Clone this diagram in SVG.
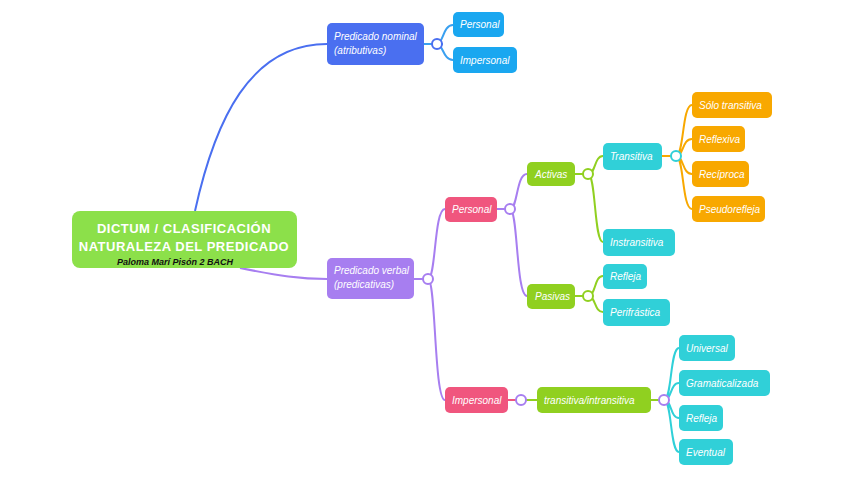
<svg xmlns="http://www.w3.org/2000/svg" width="848" height="477" viewBox="0 0 848 477">
<style>
text{font-family:"Liberation Sans",Arial,sans-serif;font-style:italic;font-size:10px;fill:#fff}
.root{font-style:normal;font-weight:bold;font-size:13px;letter-spacing:0.5px}
.sig{fill:#111;font-size:9px;font-weight:bold}
path{fill:none;stroke-width:2}
.b{stroke:#4a6ff0}.c{stroke:#3aa0f0}.p{stroke:#a77ef0}.k{stroke:#f0567e}.g{stroke:#90d020}.t{stroke:#30d0d8}.o{stroke:#f8a800}
circle{fill:#fff;stroke-width:2}
</style>
<rect width="848" height="477" fill="#fff"/>
<g id="connectors">
<path class="b" d="M195 211 C215 120 250 44 327 44"/>
<path class="p" d="M240 268 C280 276 300 279 327 279"/>
<path class="c" d="M424 44 H443 M437 44 C443 44 443 25 453 25 M437 44 C443 44 443 60 453 60"/>
<path class="p" d="M414 279 H428 M428 279 C436 279 434 209 445 209 M428 279 C436 279 434 400 445 400"/>
<path class="p" d="M497 209 H510 M510 209 C518 209 516 174 527 174 M510 209 C518 209 516 296 527 296"/>
<path class="k" d="M508 400 H521"/>
<path class="g" d="M575 174 H588 M588 174 C596 174 594 156 603 156 M588 174 C596 174 594 242 603 242 M575 296 H588 M588 296 C596 296 594 276 603 276 M588 296 C596 296 594 312 603 312 M521 400 H537 M651 400 H664"/>
<path class="o" d="M662 156 H676 M676 156 C684 156 682 105 692 105 M676 156 C684 156 682 139 692 139 M676 156 C684 156 682 174 692 174 M676 156 C684 156 682 209 692 209"/>
<path class="t" d="M664 400 C672 400 670 348 679 348 M664 400 C672 400 670 383 679 383 M664 400 C672 400 670 418 679 418 M664 400 C672 400 670 452 679 452"/>
<circle cx="437" cy="44" r="5" stroke="#4a6ff0"/>
<circle cx="428" cy="279" r="5" stroke="#a77ef0"/>
<circle cx="510" cy="209" r="5" stroke="#a77ef0"/>
<circle cx="588" cy="174" r="5" stroke="#90d020"/>
<circle cx="588" cy="296" r="5" stroke="#90d020"/>
<circle cx="676" cy="156" r="5" stroke="#30d0d8"/>
<circle cx="521" cy="400" r="5" stroke="#a77ef0"/>
<circle cx="664" cy="400" r="5" stroke="#a77ef0"/>
</g>
<g id="root"><rect x="72" y="211" width="225" height="57" rx="8" fill="#8ce04a"/>
<text class="root" x="184" y="233" text-anchor="middle">DICTUM / CLASIFICACIÓN</text>
<text class="root" x="184" y="251" text-anchor="middle">NATURALEZA DEL PREDICADO</text>
<text class="sig" x="117" y="265">Paloma Marí Pisón 2 BACH</text></g>
<g id="nominal"><rect x="327" y="23" width="97" height="42" rx="5" fill="#4a6ff0"/><text x="334" y="40">Predicado nominal</text><text x="334" y="54">(atributivas)</text></g>
<g id="n-personal"><rect x="453" y="12" width="51" height="25" rx="5" fill="#1aa7f0"/><text x="460" y="28">Personal</text></g>
<g id="n-impersonal"><rect x="453" y="47" width="64" height="26" rx="5" fill="#1aa7f0"/><text x="460" y="64">Impersonal</text></g>
<g id="verbal"><rect x="327" y="258" width="87" height="41" rx="5" fill="#a77ef0"/><text x="334" y="274">Predicado verbal</text><text x="334" y="288">(predicativas)</text></g>
<g id="personal"><rect x="445" y="197" width="52" height="25" rx="5" fill="#f0567e"/><text x="452" y="213">Personal</text></g>
<g id="activas"><rect x="527" y="162" width="48" height="24" rx="5" fill="#90d020"/><text x="535" y="178">Activas</text></g>
<g id="transitiva"><rect x="603" y="143" width="59" height="27" rx="5" fill="#30d0d8"/><text x="610" y="160">Transitiva</text></g>
<g id="solo"><rect x="692" y="92" width="80" height="26" rx="5" fill="#f8a800"/><text x="699" y="109">Sólo transitiva</text></g>
<g id="reflexiva"><rect x="692" y="126" width="53" height="26" rx="5" fill="#f8a800"/><text x="699" y="143">Reflexiva</text></g>
<g id="reciproca"><rect x="692" y="161" width="57" height="26" rx="5" fill="#f8a800"/><text x="699" y="178">Recíproca</text></g>
<g id="pseudo"><rect x="692" y="196" width="73" height="26" rx="5" fill="#f8a800"/><text x="699" y="213">Pseudorefleja</text></g>
<g id="instransitiva"><rect x="603" y="229" width="72" height="27" rx="5" fill="#30d0d8"/><text x="610" y="246">Instransitiva</text></g>
<g id="pasivas"><rect x="527" y="284" width="48" height="25" rx="5" fill="#90d020"/><text x="535" y="300">Pasivas</text></g>
<g id="refleja1"><rect x="603" y="264" width="44" height="25" rx="5" fill="#30d0d8"/><text x="610" y="280">Refleja</text></g>
<g id="perifrastica"><rect x="603" y="299" width="67" height="27" rx="5" fill="#30d0d8"/><text x="610" y="316">Perifrástica</text></g>
<g id="impersonal"><rect x="445" y="387" width="63" height="26" rx="5" fill="#f0567e"/><text x="452" y="404">Impersonal</text></g>
<g id="trans-intrans"><rect x="537" y="387" width="114" height="26" rx="5" fill="#90d020"/><text x="544" y="404">transitiva/intransitiva</text></g>
<g id="universal"><rect x="679" y="335" width="56" height="26" rx="5" fill="#30d0d8"/><text x="686" y="352">Universal</text></g>
<g id="gramatical"><rect x="679" y="370" width="91" height="26" rx="5" fill="#30d0d8"/><text x="686" y="387">Gramaticalizada</text></g>
<g id="refleja2"><rect x="679" y="405" width="44" height="26" rx="5" fill="#30d0d8"/><text x="686" y="422">Refleja</text></g>
<g id="eventual"><rect x="679" y="439" width="54" height="26" rx="5" fill="#30d0d8"/><text x="686" y="456">Eventual</text></g>
</svg>
